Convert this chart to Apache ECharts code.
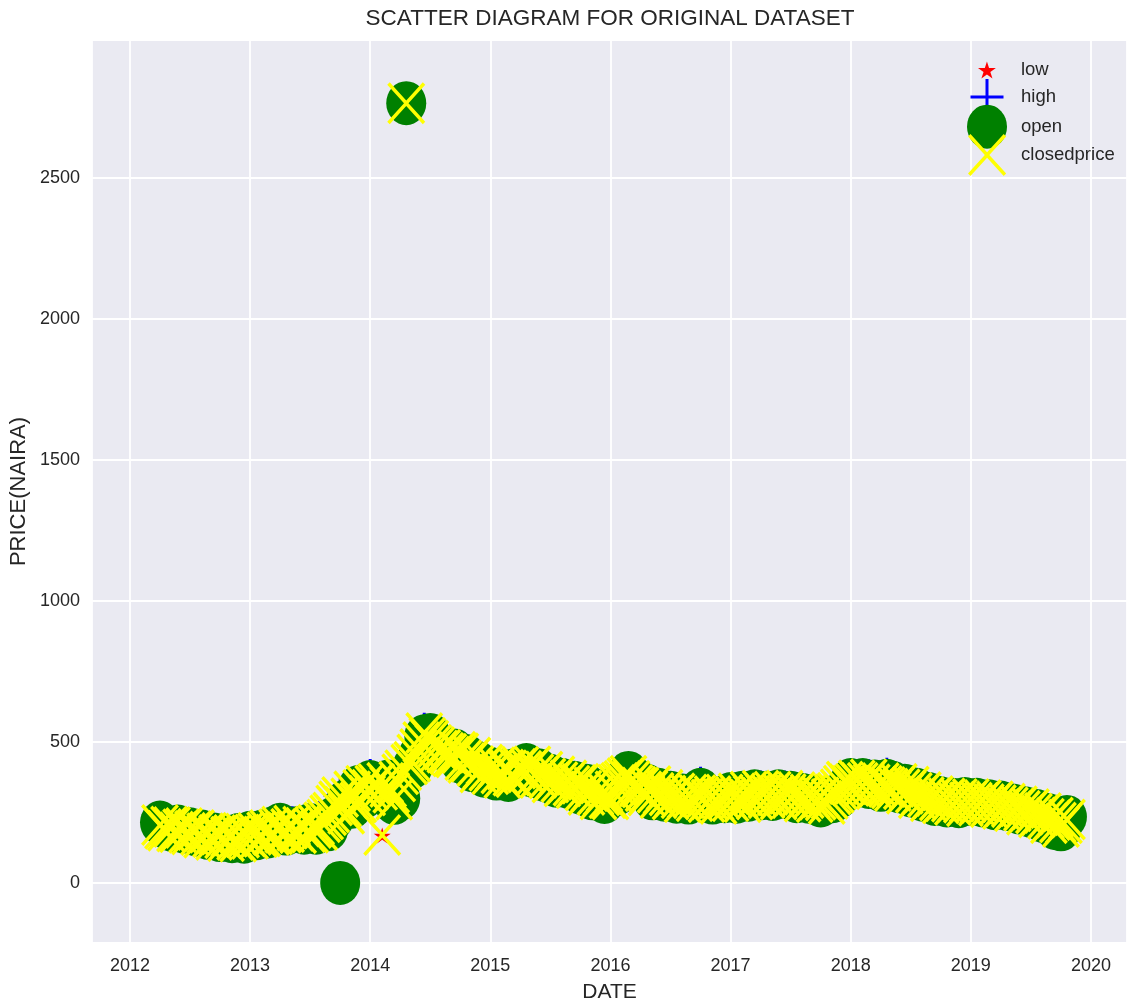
<!DOCTYPE html>
<html><head><meta charset="utf-8">
<script src="https://cdn.jsdelivr.net/npm/echarts@6/dist/echarts.min.js"></script>
<style>html,body{margin:0;padding:0;background:#fff}#c{width:1127px;height:1004px}</style>
</head><body><div id="c"></div>
<script>
const dates = [
2012.25,2012.30,2012.35,2012.40,2012.45,2012.50,2012.55,2012.60,2012.65,2012.70,2012.75,2012.80,2012.85,2012.90,2012.95,
2013.00,2013.05,2013.10,2013.15,2013.20,2013.25,2013.30,2013.35,2013.40,2013.45,2013.50,2013.55,2013.60,2013.65,2013.70,2013.75,2013.80,2013.85,2013.90,2013.95,
2014.00,2014.05,2014.10,2014.15,2014.20,2014.25,2014.30,2014.35,2014.40,2014.45,2014.50,2014.55,2014.60,2014.65,2014.70,2014.75,2014.80,2014.85,2014.90,2014.95,
2015.00,2015.05,2015.10,2015.15,2015.20,2015.25,2015.30,2015.35,2015.40,2015.45,2015.50,2015.55,2015.60,2015.65,2015.70,2015.75,2015.80,2015.85,2015.90,2015.95,
2016.00,2016.05,2016.10,2016.15,2016.20,2016.25,2016.30,2016.35,2016.40,2016.45,2016.50,2016.55,2016.60,2016.65,2016.70,2016.75,2016.80,2016.85,2016.90,2016.95,
2017.00,2017.05,2017.10,2017.15,2017.20,2017.25,2017.30,2017.35,2017.40,2017.45,2017.50,2017.55,2017.60,2017.65,2017.70,2017.75,2017.80,2017.85,2017.90,2017.95,
2018.00,2018.05,2018.10,2018.15,2018.20,2018.25,2018.30,2018.35,2018.40,2018.45,2018.50,2018.55,2018.60,2018.65,2018.70,2018.75,2018.80,2018.85,2018.90,2018.95,
2019.00,2019.05,2019.10,2019.15,2019.20,2019.25,2019.30,2019.35,2019.40,2019.45,2019.50,2019.55,2019.60,2019.65,2019.70,2019.75,2019.80
];
const midDates = [
2012.275,2012.325,2012.375,2012.425,2012.475,2012.525,2012.575,2012.625,2012.675,2012.725,2012.775,2012.825,2012.875,2012.925,2012.975,
2013.025,2013.075,2013.125,2013.175,2013.225,2013.275,2013.325,2013.375,2013.425,2013.475,2013.525,2013.575,2013.625,2013.675,2013.725,2013.775,2013.825,2013.875,2013.925,2013.975,
2014.025,2014.075,2014.125,2014.175,2014.225,2014.275,2014.325,2014.375,2014.425,2014.475,2014.525,2014.575,2014.625,2014.675,2014.725,2014.775,2014.825,2014.875,2014.925,2014.975,
2015.025,2015.075,2015.125,2015.175,2015.225,2015.275,2015.325,2015.375,2015.425,2015.475,2015.525,2015.575,2015.625,2015.675,2015.725,2015.775,2015.825,2015.875,2015.925,2015.975,
2016.025,2016.075,2016.125,2016.175,2016.225,2016.275,2016.325,2016.375,2016.425,2016.475,2016.525,2016.575,2016.625,2016.675,2016.725,2016.775,2016.825,2016.875,2016.925,2016.975,
2017.025,2017.075,2017.125,2017.175,2017.225,2017.275,2017.325,2017.375,2017.425,2017.475,2017.525,2017.575,2017.625,2017.675,2017.725,2017.775,2017.825,2017.875,2017.925,2017.975,
2018.025,2018.075,2018.125,2018.175,2018.225,2018.275,2018.325,2018.375,2018.425,2018.475,2018.525,2018.575,2018.625,2018.675,2018.725,2018.775,2018.825,2018.875,2018.925,2018.975,
2019.025,2019.075,2019.125,2019.175,2019.225,2019.275,2019.325,2019.375,2019.425,2019.475,2019.525,2019.575,2019.625,2019.675,2019.725,2019.775
];
const lowPrice = [
188,180,178,175,172,168,162,158,150,148,142,142,138,140,136,
150,148,158,155,168,185,165,180,170,168,172,168,185,180,220,285,240,260,280,295,
315,320,168,325,275,290,2760,400,440,510,490,470,460,445,430,420,410,390,385,370,
380,360,365,355,370,375,385,370,365,355,350,335,335,330,330,310,305,290,290,278,
290,305,330,365,340,325,305,290,295,285,290,278,280,275,285,295,280,275,275,280,
285,278,280,285,290,290,295,288,290,295,295,280,282,278,280,265,275,280,295,320,
330,335,335,330,325,320,330,320,315,310,300,295,285,285,270,275,265,270,262,265,
270,268,265,262,255,255,252,248,240,235,228,225,210,205,185,180,213
];
const highPrice = [
226,208,205,210,202,200,195,192,185,182,180,175,175,180,182,
188,185,192,195,205,216,195,208,205,202,215,210,222,245,285,310,300,330,350,350,
376,360,340,372,310,390,2770,440,480,540,535,505,492,475,480,465,460,450,435,425,
415,415,405,405,410,420,428,420,410,400,390,385,375,370,365,360,355,345,335,330,
340,355,370,400,380,365,355,350,340,335,330,325,320,320,325,348,320,315,310,320,
325,325,330,330,335,335,330,330,335,335,330,328,322,320,315,310,310,320,340,365,
375,370,375,375,370,360,380,365,360,355,350,340,330,325,315,310,308,305,305,308,
305,305,302,300,298,295,290,285,280,275,270,265,255,250,240,210,244
];
const openPrice = [
214,198,188,200,182,190,172,182,160,172,152,165,148,170,146,
178,158,182,165,195,206,175,190,195,178,205,178,195,190,230,0,290,270,340,305,
358,330,330,360,284,300,2765,410,450,520,525,495,482,465,470,430,450,400,425,380,
405,370,395,365,400,385,418,380,400,365,380,345,365,340,355,320,345,300,325,287,
330,315,340,390,370,355,345,300,330,295,320,288,310,285,315,330,310,285,300,290,
315,288,320,295,325,300,320,298,325,305,320,290,312,288,305,275,300,290,305,330,
365,345,365,340,360,330,362,355,325,345,310,330,295,315,280,300,275,295,272,298,
280,295,275,290,265,285,262,275,250,265,238,255,220,240,195,190,234
];
const closePrice = [
205,185,198,180,195,172,188,160,178,152,172,148,168,146,175,
156,178,165,188,172,200,180,204,176,196,178,206,215,240,275,305,245,325,285,345,
330,352,170,340,295,385,2765,430,475,532,505,482,472,458,445,460,425,445,392,420,
385,410,372,400,375,412,392,414,372,395,356,378,342,364,336,352,312,338,296,324,
296,348,362,380,348,338,310,344,300,330,296,318,286,314,290,306,286,308,280,314,
290,318,286,324,296,328,300,324,296,328,300,322,288,314,286,304,280,314,332,360,
345,364,342,368,332,354,340,326,352,316,342,300,322,290,308,282,300,276,298,272,
298,274,294,268,290,262,282,254,272,242,262,232,248,212,232,198,225
];
const closePriceMid = [
192,200,182,190,178,184,170,176,162,170,158,164,152,160,165,
170,162,180,170,190,178,192,185,200,180,195,188,225,250,290,270,300,280,330,310,
345,330,355,320,360,400,420,455,500,515,490,470,462,448,465,435,430,415,405,398,
398,388,402,380,405,398,402,385,382,370,365,358,352,345,348,328,325,312,310,300,
325,355,372,362,342,325,328,320,315,310,308,300,300,302,312,298,296,294,298,302,
305,302,305,310,312,315,312,310,312,315,312,305,300,300,295,292,298,320,345,350,
352,355,355,350,342,345,335,340,332,328,320,312,305,300,292,290,288,288,284,286,
285,284,280,280,276,272,268,265,256,252,246,240,228,222,214,212
];
const xTicks = [2012,2013,2014,2015,2016,2017,2018,2019,2020];
const yTicks = [0,500,1000,1500,2000,2500];

const FONT = "'Liberation Sans',Arial,sans-serif";
const TXT = '#262626';
const starPath = 'path://M10,0 L12.245,6.91 L19.51,6.91 L13.63,11.18 L15.88,18.09 L10,13.82 L4.12,18.09 L6.37,11.18 L0.49,6.91 L7.755,6.91 Z';
const plusPath = 'path://M15,0 L18,0 L18,16.5 L33,16.5 L33,19.5 L18,19.5 L18,36 L15,36 L15,19.5 L0,19.5 L0,16.5 L15,16.5 Z';
const ellipsePath = 'path://M0,22 A20,22 0 1,0 40,22 A20,22 0 1,0 0,22 Z';
const xPath = 'path://M0,2.6 L2.6,0 L20,19.14 L37.4,0 L40,2.6 L22.36,22 L40,41.4 L37.4,44 L20,24.86 L2.6,44 L0,41.4 L17.64,22 Z';

function pts(xs, arr) { return xs.map((d, i) => [d, arr[i]]); }
function isTick(v, list) { const r = Math.round(v); return Math.abs(v - r) < 1e-6 && list.indexOf(r) >= 0; }
function mkLegend(name, icon, h, left, top) {
  return { data: [{ name: name, icon: icon }], left: left, top: top, itemWidth: 58, itemHeight: h,
    padding: 0, selectedMode: false, symbolKeepAspect: true,
    textStyle: { fontFamily: FONT, fontSize: 18.5, color: TXT } };
}

const chart = echarts.init(document.getElementById('c'), null, { renderer: 'canvas' });
chart.setOption({
  animation: false,
  backgroundColor: '#ffffff',
  title: { text: 'SCATTER DIAGRAM FOR ORIGINAL DATASET', left: 610, top: 7, textAlign: 'center', padding: 0,
    textStyle: { fontFamily: FONT, fontSize: 22.5, fontWeight: 'normal', color: TXT } },
  grid: { left: 92, right: 0, top: 40, bottom: 61, show: true, backgroundColor: '#EAEAF2', borderWidth: 0, outerBoundsMode: 'none' },
  legend: [
    mkLegend('low', starPath, 17, 978, 60.5),
    mkLegend('high', plusPath, 36, 970.5, 79),
    mkLegend('open', ellipsePath, 44, 967, 104.7),
    mkLegend('closedprice', xPath, 42, 968, 134)
  ],
  xAxis: {
    type: 'value', min: 2011.684, max: 2020.30, splitNumber: 9,
    axisLine: { show: false }, axisTick: { show: false },
    splitLine: { show: true, lineStyle: { color: '#ffffff', width: 1.8 } },
    axisLabel: { margin: 14, color: TXT, fontFamily: FONT, fontSize: 18,
      formatter: v => isTick(v, xTicks) ? String(Math.round(v)) : '' },
    name: 'DATE', nameLocation: 'middle', nameGap: 39, nameMoveOverlap: false,
    nameTextStyle: { fontFamily: FONT, fontSize: 21, color: TXT }
  },
  yAxis: {
    type: 'value', min: -213, max: 2989, splitNumber: 7,
    axisLine: { show: false }, axisTick: { show: false },
    splitLine: { show: true, lineStyle: { color: '#ffffff', width: 1.8 } },
    axisLabel: { margin: 12, color: TXT, fontFamily: FONT, fontSize: 18,
      formatter: v => isTick(v, yTicks) ? String(Math.round(v)) : '' },
    name: 'PRICE(NAIRA)', nameLocation: 'middle', nameGap: 62, nameMoveOverlap: false,
    nameTextStyle: { fontFamily: FONT, fontSize: 22, color: TXT }
  },
  series: [
    { name: 'low', type: 'scatter', data: pts(dates, lowPrice), symbol: starPath, symbolSize: [17, 16], itemStyle: { color: '#FF0000', opacity: 1 } },
    { name: 'high', type: 'scatter', data: pts(dates, highPrice), symbol: plusPath, symbolSize: [33, 36], itemStyle: { color: '#0000FF', opacity: 1 } },
    { name: 'open', type: 'scatter', data: pts(dates, openPrice), symbol: ellipsePath, symbolSize: [40, 44], itemStyle: { color: '#008000', opacity: 1 } },
    { name: 'closedprice', type: 'scatter', data: pts(dates, closePrice), symbol: xPath, symbolSize: [38, 42], itemStyle: { color: '#FFFF00', opacity: 1 } },
    { name: 'closedprice', type: 'scatter', data: pts(midDates, closePriceMid), symbol: xPath, symbolSize: [38, 42], itemStyle: { color: '#FFFF00', opacity: 1 } }
  ]
});
</script>
</body></html>
